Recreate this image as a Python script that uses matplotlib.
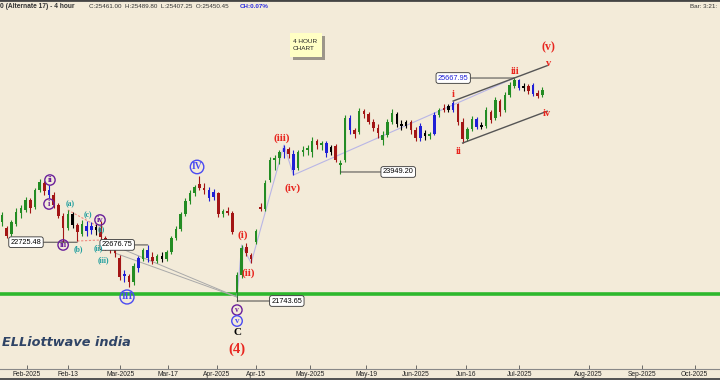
import matplotlib
matplotlib.use('Agg')
import matplotlib.pyplot as plt
from matplotlib.patches import Rectangle

# 4-hour-ish candles (one per session day)
opens = [23088, 22980, 22873, 23052, 23249, 23303, 23482, 23357, 23661, 23787,
         23661, 23572, 23392, 23195, 22980, 23231, 23034, 22873, 23016, 22944,
         22998, 22980, 22801, 22676, 22586, 22443, 22120, 22120, 22013, 22263,
         22425, 22586, 22461, 22389, 22478, 22425, 22550, 22801, 22962, 23231,
         23464, 23607, 23769, 23697, 23661, 23536, 23607, 23231, 23285, 23249,
         21815, 22138, 22640, 22496, 22729, 23357, 23321, 23840, 24199, 24235,
         24342, 24396, 24306, 24055, 24342, 24378, 24342, 24539, 24468, 24503,
         24342, 24450, 24109, 24199, 24951, 24736, 24701, 25077, 25023, 24880,
         24772, 24557, 24647, 24880, 25023, 24844, 24808, 24880, 24736, 24593,
         24683, 24629, 24665, 25005, 25131, 25095, 25095, 25202, 24880, 24575,
         24754, 24934, 24790, 24808, 25059, 24951, 25256, 25095, 25364, 25525,
         25632, 25489, 25525, 25543, 25399, 25364]
highs = [23267, 23016, 23124, 23339, 23392, 23536, 23518, 23697, 23858, 23822,
         23751, 23625, 23428, 23249, 23303, 23267, 23070, 23124, 23106, 23088,
         23052, 23106, 22837, 22693, 22622, 22496, 22228, 22156, 22353, 22478,
         22622, 22676.75, 22550, 22514, 22550, 22586, 22837, 23016, 23267, 23518,
         23661, 23751, 23912, 23787, 23715, 23679, 23625, 23321, 23357, 23285,
         22192, 22676, 22711, 22532, 22962, 23428, 23840, 24253, 24288, 24378,
         24468, 24432, 24378, 24378, 24450, 24468, 24611, 24575, 24539, 24539,
         24468, 24485, 24199, 25005, 25005, 24772, 25131, 25113, 25059, 24934,
         24844, 24718, 24934, 25113, 25059, 24916, 24916, 24916, 24790, 24862,
         24736, 24701, 25059, 25131, 25202, 25202, 25256, 25220, 24951, 24790,
         24987, 24969, 24880, 25149, 25095, 25328, 25292, 25417, 25597, 25667.95,
         25650, 25579, 25561, 25579, 25453, 25507]
lows = [23016, 22801, 22837, 23016, 23159, 23267, 23249, 23321, 23625, 23572,
        23518, 23339, 23159, 22725.48, 22944, 22980, 22747, 22837, 22837, 22873,
        22855, 22765, 22586, 22532, 22461, 22048, 22013, 21923, 21959, 22192,
        22389, 22371, 22335, 22353, 22371, 22389, 22514, 22765, 22926, 23195,
        23410, 23554, 23661, 23590, 23464, 23482, 23177, 23177, 23213, 22873,
        21743.65, 22084, 22478, 22353, 22693, 23285, 23285, 23805, 24020, 24127,
        24235, 24235, 23930, 24020, 24270, 24288, 24253, 24396, 24378, 24253,
        24288, 24163, 23949.2, 24163, 24665, 24593, 24665, 24951, 24844, 24718,
        24593, 24468, 24611, 24844, 24790, 24736, 24772, 24665, 24539, 24539,
        24557, 24575, 24647, 24969, 25059, 25059, 25059, 24826, 24503, 24539,
        24718, 24754, 24754, 24772, 24862, 24916, 24987, 25059, 25328, 25489,
        25453, 25435, 25381, 25346, 25310, 25328]
closes = [23213, 22837, 23088, 23267, 23339, 23482, 23339, 23661, 23805, 23643,
          23572, 23392, 23195, 22980, 23231, 23034, 22909, 23052, 22926, 23016,
          22944, 22819, 22676, 22586, 22532, 22102, 22156, 22013, 22299, 22443,
          22586, 22443, 22389, 22478, 22425, 22550, 22801, 22962, 23231, 23464,
          23607, 23715, 23697, 23661, 23518, 23625, 23231, 23285, 23249, 22909,
          22138, 22622, 22532, 22425, 22926, 23321, 23787, 24199, 24235, 24342,
          24414, 24306, 24020, 24342, 24378, 24414, 24539, 24468, 24503, 24324,
          24432, 24199, 24145, 24951, 24736, 24665, 25077, 25023, 24880, 24772,
          24683, 24647, 24880, 25041, 24844, 24808, 24880, 24736, 24593, 24808,
          24629, 24665, 25005, 25095, 25095, 25166, 25220, 24880, 24575, 24754,
          24934, 24790, 24826, 25095, 24916, 25274, 25059, 25364, 25543, 25632,
          25489, 25525, 25435, 25381, 25346, 25453]
blue_bars = [10, 18, 19, 26, 29, 31, 44, 45, 60, 62, 69, 74, 89, 92, 96, 101, 110, 113]
black_bars = [15, 20, 34, 70, 84, 85, 86, 90, 95, 102, 111]

tick_pos = [5.23, 13.94, 25.17, 35.23, 45.68, 54.09, 65.62, 77.45, 87.98,
            98.72, 110.06, 124.81, 136.15, 147.38]
tick_labels = ['Feb-2025', 'Feb-13', 'Mar-2025', 'Mar-17', 'Apr-2025', 'Apr-15',
               'May-2025', 'May-19', 'Jun-2025', 'Jun-16', 'Jul-2025', 'Aug-2025',
               'Sep-2025', 'Oct-2025']
support = 21797

bg = '#f3ebd9'
green = '#238c23'
red = '#a31515'
blue = '#1f1fd6'
purple = '#6a1f9a'
cblue = '#4a4af2'
teal = '#1f9e9e'
wred = '#e8261f'
serif = 'Liberation Serif'

fig = plt.figure(figsize=(7.2, 3.8), dpi=100, facecolor=bg)
ax = fig.add_axes([0, 11 / 380, 1, 369 / 380])
ax.set_facecolor(bg)

n = len(closes)
cols = []
for i in range(n):
    if i in blue_bars:
        cols.append(blue)
    elif i in black_bars:
        cols.append('black')
    elif closes[i] >= opens[i]:
        cols.append(green)
    else:
        cols.append(red)
xs = list(range(n))
ax.vlines(xs, lows, highs, colors=cols, lw=0.8, zorder=3)
bodies = [max(abs(c - o), 12) for o, c in zip(opens, closes)]
bottoms = [min(o, c) for o, c in zip(opens, closes)]
ax.bar(xs, bodies, bottom=bottoms, width=0.55, color=cols, zorder=3)

# support line
ax.axhline(support, color='#2db82d', lw=2.6, zorder=2)

# wave path lines
wx = [50, 51, 53, 60, 62, 109]
wy = [lows[50], highs[51], lows[53], highs[60], lows[62], highs[109]]
ax.plot(wx, wy, color='#b9b6e6', lw=0.8, zorder=2)
ax.plot([21, 50], [lows[21], lows[50]], color='#a9a9a9', lw=0.7, zorder=2)
ax.plot([24, 50], [closes[24], lows[50]], color='#a9a9a9', lw=0.7, zorder=2)
ax.plot([14, 21], [highs[14], opens[21]], color='#f08a80', lw=0.8, ls=(0, (2, 1.5)), zorder=2)
ax.plot([16, 21], [lows[16], lows[21]], color='#f08a80', lw=0.8, ls=(0, (2, 1.5)), zorder=2)

# channel
slope = (highs[109] - highs[96]) / (109 - 96)
ax.plot([96, 116], [highs[96], highs[96] + slope * 20], color='#555555', lw=1.0, zorder=4)
ax.plot([98, 116], [lows[98], lows[98] + slope * 18], color='#555555', lw=1.0, zorder=4)

# price boxes
def price_box(txt, xy, xytext, color='black'):
    ax.annotate(txt, xy=xy, xytext=xytext, fontsize=5.3, color=color,
                family='Liberation Sans', ha='center', va='center', zorder=6,
                bbox=dict(boxstyle='round,pad=0.25,rounding_size=0.3', fc='white',
                          ec='#333333', lw=0.6),
                arrowprops=dict(arrowstyle='-', color='#444444', lw=0.7,
                                shrinkA=0, shrinkB=0))

price_box('25667.95', (109, highs[109]), (96.0, highs[109]), color=blue)
price_box('23949.20', (72, 23984), (84.3, 23984))
price_box('22725.48', (16, lows[13]), (5.1, lows[13]))
price_box('22676.75', (31, highs[31]), (24.5, highs[31]))
price_box('21743.65', (50, 21672), (60.6, 21672))
ax.plot([50, 50], [lows[50], 21672], color='#444444', lw=0.7, zorder=5)

# wave labels
def circ(txt, x, y, color, fs=6.0):
    ax.text(x, y, txt, color=color, fontsize=fs, family=serif, weight='bold',
            ha='center', va='center', zorder=7,
            bbox=dict(boxstyle='circle,pad=0.14', fc='none', ec=color, lw=1.0))

def lab(txt, x, y, color, fs=7.5):
    ax.text(x, y, txt, color=color, fontsize=fs, family=serif, weight='bold',
            ha='center', va='center', zorder=7)

circ('ii', 10.2, 23840, purple)
circ('i', 10.0, 23410, purple)
circ('iii', 13.0, 22676, purple)
circ('iv', 20.85, 23124, purple)
circ('III', 26.6, 21744, cblue, 7.0)
circ('IV', 41.5, 24074, cblue, 7.0)
circ('v', 50.0, 21511, purple, 5.5)
circ('v', 50.0, 21314, cblue, 6.5)

for t, x, y in [('(a)', 14.5, 23410), ('(b)', 16.2, 22604), ('(c)', 18.3, 23213),
                ('(i)', 21.1, 22962), ('(ii)', 20.4, 22622), ('(iii)', 21.5, 22407)]:
    lab(t, x, y, teal, 5.5)

lab('C', 50.0, 21099, 'black', 8)
lab('(4)', 50.0, 20812, wred, 10.5)
lab('(i)', 51.3, 22855, wred, 8)
lab('(ii)', 52.3, 22174, wred, 8)
lab('(iii)', 59.6, 24593, wred, 8)
lab('(iv)', 61.9, 23697, wred, 8)
lab('i', 96.0, 25381, wred, 7.5)
lab('ii', 97.2, 24360, wred, 7.5)
lab('iii', 109.1, 25776, wred, 7.5)
lab('(v)', 116.2, 26224, wred, 8.5)
lab('v', 116.2, 25937, wred, 7.5)
lab('iv', 116.0, 25041, wred, 7.5)

ax.set_xlim(-0.43, 152.77)
ax.set_ylim(20453.5, 27066)
ax.set_yticks([])
ax.set_xticks(tick_pos)
ax.set_xticklabels(tick_labels, fontsize=4.8, family='Liberation Sans', color='#222222')
ax.tick_params(axis='x', direction='in', length=3, width=0.6, color='#555555', pad=1.5)
for s in ['left', 'right']:
    ax.spines[s].set_visible(False)
ax.spines['top'].set_color('#444444')
ax.spines['top'].set_linewidth(2)
ax.spines['bottom'].set_color('#888888')
ax.spines['bottom'].set_linewidth(0.8)

# header texts
fig.text(0.0, 1 - 7 / 380, '0 (Alternate 17) - 4 hour', fontsize=4.8, weight='bold',
         color='#333333', family='Liberation Sans', va='center')
fig.text(89 / 720, 1 - 7 / 380, 'C:25461.00  H:25489.80  L:25407.25  O:25450.45',
         fontsize=4.5, color='#333333', family='Liberation Sans', va='center')
fig.text(240 / 720, 1 - 7 / 380, 'CH:0.07%', fontsize=4.5, color='#2a2ae0',
         family='Liberation Sans', va='center', weight='bold')
fig.text(690 / 720, 1 - 7 / 380, 'Bar: 3:21:', fontsize=4.5, color='#333333',
         family='Liberation Sans', va='center')

# 4 hour chart note
fig.add_artist(Rectangle((293 / 720, 1 - 60 / 380), 32 / 720, 24 / 380,
                         transform=fig.transFigure, fc='#9c968a', ec='none'))
fig.add_artist(Rectangle((290 / 720, 1 - 57 / 380), 32 / 720, 24 / 380,
                         transform=fig.transFigure, fc='#ffffc4', ec='none'))
fig.text(293 / 720, 1 - 45 / 380, '4 HOUR\nCHART', fontsize=4.6, color='#222222',
         family='Liberation Sans', va='center', linespacing=1.4)

# logo
fig.text(2 / 720, 1 - 343 / 380, 'ELLiottwave india', fontsize=9.3, weight='bold',
         style='italic', color='#2f4466', va='center', family='DejaVu Sans')

# bottom border
fig.add_artist(Rectangle((0, 0), 1, 2 / 380, transform=fig.transFigure,
                         fc='#555555', ec='none'))

fig.savefig('out.png', dpi=100, facecolor=bg)
